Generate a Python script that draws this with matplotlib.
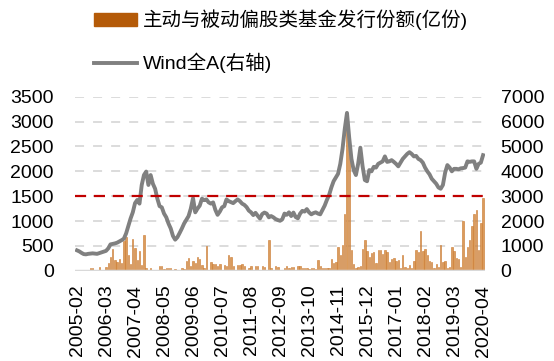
import matplotlib.pyplot as plt
from matplotlib.patches import Patch
from matplotlib.lines import Line2D
import pandas as pd

plt.rcParams['font.family'] = ['Liberation Sans', 'Noto Sans CJK SC']

#Monthly data, 2005-02 .. 2020-04
months = pd.date_range('2005-02-01', '2020-04-01', freq='MS').strftime('%Y-%m').tolist()

#fund issuance (亿份), left axis
fund_share = [
    10, 15, 5, 10, 8, 12, 50, 60, 5, 15, 70, 10, 20,
    70, 150, 280, 440, 210, 175, 230, 150, 590, 680, 310, 140,
    640, 465, 210, 400, 125, 710, 55, 10, 55, 5, 10, 5,
    100, 100, 40, 60, 60, 60, 10, 45, 5, 10, 60, 30,
    200, 257, 90, 200, 164, 285, 235, 110, 55, 500, 20, 178,
    128, 143, 90, 143, 20, 110, 90, 307, 285, 100, 20, 110,
    110, 130, 90, 20, 50, 90, 20, 90, 90, 20, 90, 70,
    20, 620, 60, 20, 90, 70, 10, 5, 60, 90, 60, 80,
    80, 20, 90, 90, 50, 50, 50, 40, 60, 50, 40, 211,
    90, 50, 60, 60, 60, 227, 160, 180, 480, 313, 514, 1150,
    3100, 2450, 420, 140, 50, 70, 100, 432, 617, 390, 274, 356,
    377, 150, 411, 425, 342, 411, 377, 171, 240, 260, 205, 220,
    50, 308, 80, 50, 120, 50, 192, 425, 377, 808, 397, 445,
    308, 200, 171, 50, 140, 80, 514, 171, 200, 50, 70, 480,
    397, 260, 240, 70, 1000, 276, 483, 621, 897, 1138, 1221,
    414, 966, 1463,
]

#Wind全A index, right axis
wind_a = [
    820, 780, 720, 670, 660, 680, 690, 700, 690, 680, 710, 740, 770,
    800, 900, 1060, 1080, 1100, 1130, 1180, 1230, 1290, 1500, 1800, 2100,
    2350, 2720, 2850, 2700, 3450, 3850, 3990, 3450, 3850, 3500, 3300, 2900,
    2600, 2550, 2300, 2150, 1900, 1700, 1400, 1250, 1350, 1520, 1700, 1900,
    2050, 2200, 2500, 2920, 2350, 2500, 2620, 2900, 2840, 2870, 2750, 2700,
    2750, 2450, 2250, 2380, 2550, 2600, 2870, 2800, 2760, 2720, 2800, 2870,
    2800, 2700, 2650, 2560, 2420, 2350, 2240, 2330, 2210, 2100, 2280, 2340,
    2300, 2150, 2200, 2150, 2080, 2040, 2010, 2070, 2300, 2250, 2350, 2200,
    2340, 2160, 2110, 2300, 2410, 2380, 2480, 2350, 2270, 2320, 2350, 2300,
    2270, 2450, 2620, 2850, 3050, 3350, 3600, 3750, 3900, 4300, 4900, 5700,
    6350, 5350, 4500, 4050, 3850, 4300, 4950, 4200, 3650, 3600, 4050, 4000,
    4180, 4150, 4300, 4350, 4400, 4600, 4380, 4400, 4450, 4380, 4300, 4200,
    4350, 4500, 4600, 4700, 4770, 4700, 4600, 4620, 4500, 4450, 4350, 4150,
    4000, 3880, 3700, 3600, 3500, 3350, 3300, 3450, 3950, 4250, 4150, 4000,
    4100, 4100, 4080, 4120, 4130, 4150, 4400, 4380, 4400, 4400, 4100, 4300,
    4350, 4650,
]

left_ticks = [0, 500, 1000, 1500, 2000, 2500, 3000, 3500]
right_ticks = [0, 1000, 2000, 3000, 4000, 5000, 6000, 7000]
threshold = 1500

fig = plt.figure(figsize=(5.54, 3.61), dpi=100)
ax = fig.add_axes([0.135, 0.25, 0.741, 0.482])
ax2 = ax.twinx()

x = list(range(len(months)))

#bars on the left axis
ax.bar(x, fund_share, width=0.62, color='#DB9C5C', edgecolor='#C9772E', linewidth=0.4, zorder=2)
ax.set_ylim(0, 3500)
ax.set_xlim(-1, len(months))
ax.set_yticks(left_ticks)
for t in left_ticks[1:]:
    ax.axhline(t, color='#D9D9D9', lw=1.3, ls=(0, (5, 5)), zorder=1)
ax.axhline(0, color='#D9D9D9', lw=2.5, zorder=3)

#index line on the right axis
ax2.plot(x, wind_a, color='#808080', lw=2.8, zorder=3)
ax2.axhline(threshold * 2, color='#C00000', lw=1.6, ls=(0, (5, 3.5)), zorder=4)
ax2.set_ylim(0, 7000)
ax2.set_yticks(right_ticks)

#x ticks every 13 months
ax.set_xticks(x[::13])
ax.set_xticklabels(months[::13], rotation=90)

for a in (ax, ax2):
    for s in a.spines.values():
        s.set_visible(False)
ax.tick_params(axis='y', length=0, pad=15, labelsize=14)
ax.tick_params(axis='x', length=0, pad=10, labelsize=14)
ax2.tick_params(axis='y', length=0, pad=11, labelsize=14)

handles = [Patch(color='#B45A08'), Line2D([], [], color='#808080', lw=2.8)]
labels = ['主动与被动偏股类基金发行份额(亿份)', 'Wind全A(右轴)']
fig.legend(handles, labels, loc='upper left', bbox_to_anchor=(0.153, 1.0), frameon=False,
           fontsize=14, handlelength=2.2, handleheight=0.6, handletextpad=0.3, labelspacing=1.15,
           borderaxespad=0.1)

plt.savefig('out.png', dpi=100)
